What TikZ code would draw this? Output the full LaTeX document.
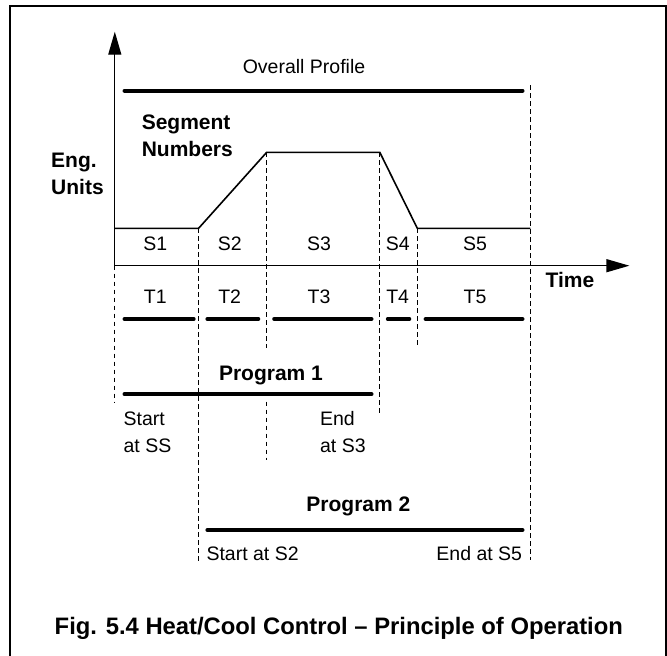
\documentclass[tikz,border=0pt]{standalone}
\usepackage{fontspec}
\setmainfont{Liberation Sans}
\usetikzlibrary{arrows.meta}
\begin{document}
\begin{tikzpicture}[x=1pt,y=-1pt,
  bar/.style={line width=4pt,line cap=round},
  guide/.style={line width=0.8pt,dash pattern=on 4.5pt off 3.5pt},
  axis/.style={line width=1.3pt,-{Triangle[length=23pt,width=13pt]}},
  profile/.style={line width=1.6pt,line join=miter},
  lbl/.style={inner sep=0pt,anchor=base,font=\fontsize{19.5}{23}\selectfont},
  blbl/.style={inner sep=0pt,anchor=base,font=\bfseries\fontsize{21}{24}\selectfont},
]
\useasboundingbox (0,0) rectangle (667,656);
\draw[line width=1.5pt] (10,665) -- (10,6) -- (666,6) -- (666,665);

% axes
\coordinate (O) at (114.8,265.7);
\coordinate (ytip) at (114.8,31.7);
\coordinate (xtip) at (629.4,265.7);
\draw[axis] (O) -- (ytip);
\draw[axis] (O) -- (xtip);

% profile
\coordinate (p0) at (114.8,228.3);
\coordinate (p1) at (198.6,228.3);
\coordinate (p2) at (266.7,152.3);
\coordinate (p3) at (379.8,152.3);
\coordinate (p4) at (417.3,228.3);
\coordinate (p5) at (530.4,228.3);
\draw[profile] (p0) -- (p1) -- (p2) -- (p3) -- (p4) -- (p5);

% dashed guides
\coordinate (ga) at (114.8,403);
\coordinate (gb) at (198.6,563);
\coordinate (gc) at (266.7,348);
\coordinate (gc1) at (266.7,401.5);
\coordinate (gc2) at (266.7,460);
\coordinate (gd) at (379.8,413);
\coordinate (ge) at (417.3,348);
\coordinate (gf0) at (530.4,85);
\coordinate (gf) at (530.4,560);
\draw[guide] (O) -- (ga);
\draw[guide] (p1) -- (gb);
\draw[guide] (p2) -- (gc);
\draw[guide] (gc1) -- (gc2);
\draw[guide] (p3) -- (gd);
\draw[guide] (p4) -- (ge);
\draw[guide] (gf0) -- (gf);

% bars
\draw[bar] (124.5,90.7) -- (522.5,90.7);
\draw[bar] (124.5,319) -- (193.7,319);
\draw[bar] (207.4,319) -- (258.3,319);
\draw[bar] (274.2,319) -- (371.5,319);
\draw[bar] (387.8,319) -- (409.3,319);
\draw[bar] (425.6,319) -- (522.5,319);
\draw[bar] (124.5,394.3) -- (371.5,394.3);
\draw[bar] (207.4,530) -- (522.5,530);

% labels
\node[lbl] (ov) at (304,73.3) {Overall Profile};
\node[blbl,anchor=base west] (seg1) at (141.6,129.3) {Segment};
\node[blbl,anchor=base west] (seg2) at (141.6,156) {Numbers};
\node[blbl,anchor=base west] (eng1) at (51,167.7) {Eng.};
\node[blbl,anchor=base west] (eng2) at (51,194) {Units};
\node[lbl] (s1) at (155.3,250.7) {S1};
\node[lbl] (s2) at (229.7,250.7) {S2};
\node[lbl] (s3) at (319,250.7) {S3};
\node[lbl] (s4) at (397.7,250.7) {S4};
\node[lbl] (s5) at (475,250.7) {S5};
\node[blbl] (time) at (570,287.3) {Time};
\node[lbl] (t1) at (155.3,303.3) {T1};
\node[lbl] (t2) at (229.7,303.3) {T2};
\node[lbl] (t3) at (319,303.3) {T3};
\node[lbl] (t4) at (397.7,303.3) {T4};
\node[lbl] (t5) at (475,303.3) {T5};
\node[blbl] (prog1) at (271,380) {Program 1};
\node[lbl,anchor=base west] (st1a) at (123.4,425) {Start};
\node[lbl,anchor=base west] (st1b) at (123.4,452.3) {at SS};
\node[lbl,anchor=base west] (en1a) at (319.9,425) {End};
\node[lbl,anchor=base west] (en1b) at (319.9,452.3) {at S3};
\node[blbl] (prog2) at (358.4,511.7) {Program 2};
\node[lbl,anchor=base west] (st2) at (206.3,560.7) {Start at S2};
\node[lbl,anchor=base east] (en2) at (522.3,560.7) {End at S5};
\node[inner sep=0pt,anchor=base,font=\bfseries\fontsize{23.8}{27}\selectfont] (cap) at (338.8,634.3) {Fig. 5.4 Heat/Cool Control – Principle of Operation};
\end{tikzpicture}
\end{document}
